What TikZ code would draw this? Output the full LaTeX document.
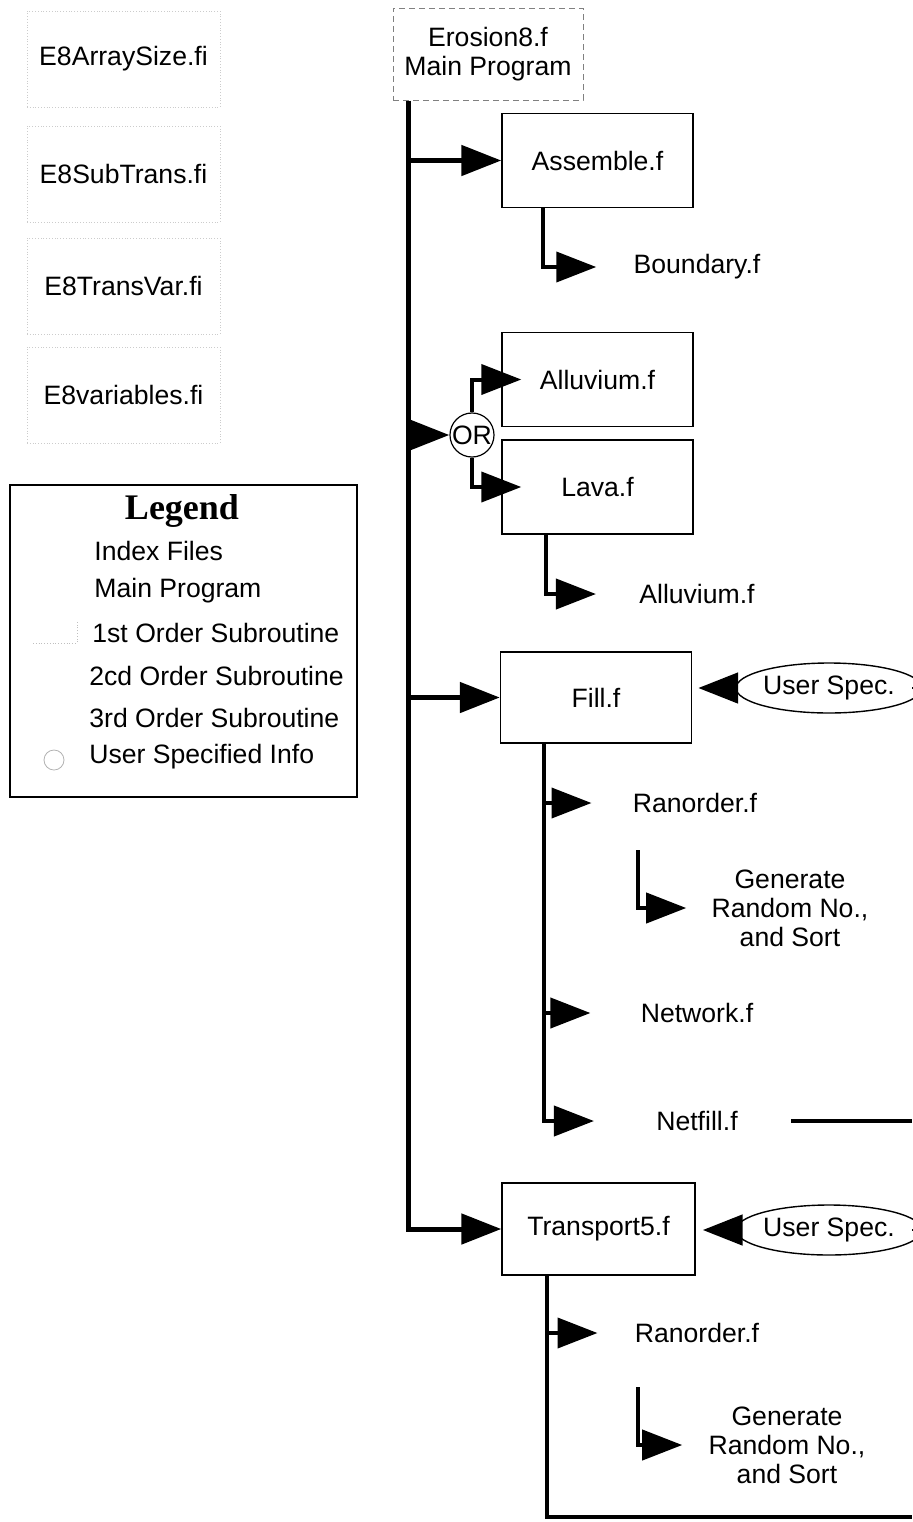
\documentclass[tikz,border=0pt]{standalone}
\usepackage{fontspec}
\setmainfont{Liberation Sans}
\newfontfamily\legendfont{Liberation Serif}
\usetikzlibrary{arrows.meta}
\usetikzlibrary{shapes.geometric}

\begin{document}
\begin{tikzpicture}[x=0.5pt,y=-0.5pt,
  every node/.style={font=\fontsize{13.3}{14.5}\selectfont},
  sub/.style={draw,line width=0.7pt,minimum width=95.5pt,minimum height=47pt,inner sep=0pt},
  idx/.style={draw=gray!40,densely dotted,line width=0.4pt,minimum width=96.5pt,minimum height=48pt},
  lbl/.style={inner sep=0pt},
  flow/.style={line width=2.5pt,-{Triangle[length=20pt,width=15pt]}},
  branch/.style={line width=2pt,-{Triangle[length=20pt,width=15pt]}},
  userspec/.style={ellipse,draw,line width=0.7pt,minimum width=81.5pt,minimum height=25pt,inner sep=0pt}]

  \useasboundingbox (0,0) rectangle (912,1522);
  \coordinate (rim) at (912,0);

  % index files
  \foreach \name/\y/\txt in {ixA/59/E8ArraySize.fi, ixB/174/E8SubTrans.fi,
                             ixC/286/E8TransVar.fi, ixD/395/E8variables.fi}{
    \node[idx] (\name) at (123.5,\y) {\txt};
  }

  % legend
  \node[draw,line width=0.8pt,minimum width=173.5pt,minimum height=156pt] (legend) at (183.5,641) {};
  \node[font=\legendfont\bfseries\fontsize{18}{20}\selectfont] (legtitle) at (182,511) {Legend};
  \foreach \name/\x/\y/\txt in {lgA/94/551/Index Files, lgB/94/591/Main Program,
                                lgC/92/633/1st Order Subroutine, lgD/89/676/2cd Order Subroutine,
                                lgE/89/718/3rd Order Subroutine, lgF/89/757/User Specified Info}{
    \node[lbl,anchor=west] (\name) at (\x,\y) {\txt};
  }
  \draw[gray!50,densely dotted,line width=0.4pt] (33,643) -| (77,620);
  \draw[gray!60,line width=0.4pt] (54,760) circle[radius=5pt];

  % main program and subroutines
  \node[draw=gray,densely dashed,line width=0.5pt,minimum width=95pt,minimum height=46pt,align=center] (main) at (488,54) {Erosion8.f\\Main Program};
  \node[sub] (assemble) at (597.5,160.5) {Assemble.f};
  \node[sub] (alluvium) at (597.5,379.5) {Alluvium.f};
  \node[sub] (lava) at (597.5,487) {Lava.f};
  \node[sub,minimum height=45.5pt] (fill) at (596,697.5) {Fill.f};
  \node[sub,minimum width=96.5pt,minimum height=46pt] (transport) at (598.5,1229) {Transport5.f};
  \node[circle,draw,line width=0.6pt,inner sep=0pt,minimum size=22pt] (or) at (472,435) {OR};

  % second and third order routines
  \node[lbl] (boundary) at (697,267) {Boundary.f};
  \node[lbl] (alluvB) at (697,594) {Alluvium.f};
  \node[lbl] (ranA) at (695,803) {Ranorder.f};
  \node[lbl,align=center] (genA) at (790,908) {Generate\\Random No.,\\and Sort};
  \node[lbl] (network) at (697,1013) {Network.f};
  \node[lbl] (netfill) at (697,1121) {Netfill.f};
  \node[lbl] (ranB) at (697,1333) {Ranorder.f};
  \node[lbl,align=center] (genB) at (787,1445) {Generate\\Random No.,\\and Sort};

  \node[userspec] (specA) at (829,688) {User Spec.};
  \node[userspec] (specB) at (829,1230) {User Spec.};

  % trunk from the main program
  \coordinate (trunk) at ([xshift=8pt]main.south west);
  \draw[flow] (trunk) |- (transport.west);
  \draw[flow] (assemble.west -| trunk) -- (assemble.west);
  \draw[flow] (or.west -| trunk) -- (or.west);
  \draw[flow] (fill.west -| trunk) -- (fill.west);

  \draw[branch] (or.north) |- ([xshift=10pt]alluvium.west);
  \draw[branch] (or.south) |- ([xshift=10pt]lava.west);
  \draw[branch,shorten >=18.5pt] ([xshift=21pt]assemble.south west) |- (boundary.west);
  \draw[branch,shorten >=21.5pt] ([xshift=22.5pt]lava.south west) |- (alluvB.west);

  % fill branches
  \coordinate (fbus) at ([xshift=22pt]fill.south west);
  \draw[branch,shorten >=31pt] (fbus) |- (netfill.west);
  \draw[branch,shorten >=20.5pt] (fbus |- ranA) -- (ranA.west);
  \draw[branch,shorten >=25pt] (fbus |- network) -- (network.west);
  \coordinate (lA) at (638,850);
  \draw[branch,shorten >=12.5pt] (lA) |- (genA.west);
  \draw[line width=2pt] ([xshift=26.5pt]netfill.east) -- (netfill.east -| rim);

  % transport branches
  \coordinate (tbus) at ([xshift=23pt]transport.south west);
  \coordinate (floor) at (912,1517);
  \draw[line width=2pt] (tbus) |- (floor);
  \draw[branch,shorten >=18.5pt] (tbus |- ranB) -- (ranB.west);
  \coordinate (lB) at (638,1387);
  \draw[branch,shorten >=13pt] (lB) |- (genB.west);

  % user input
  \draw[flow,shorten >=3pt] (specA.west) -- (specA.west -| fill.east);
  \draw[flow,shorten >=3.5pt] (specB.west) -- (specB.west -| transport.east);
  \draw[line width=1pt] (specA.east) -- (specA.east -| rim);
  \draw[line width=1pt] (specB.east) -- (specB.east -| rim);

\end{tikzpicture}
\end{document}
